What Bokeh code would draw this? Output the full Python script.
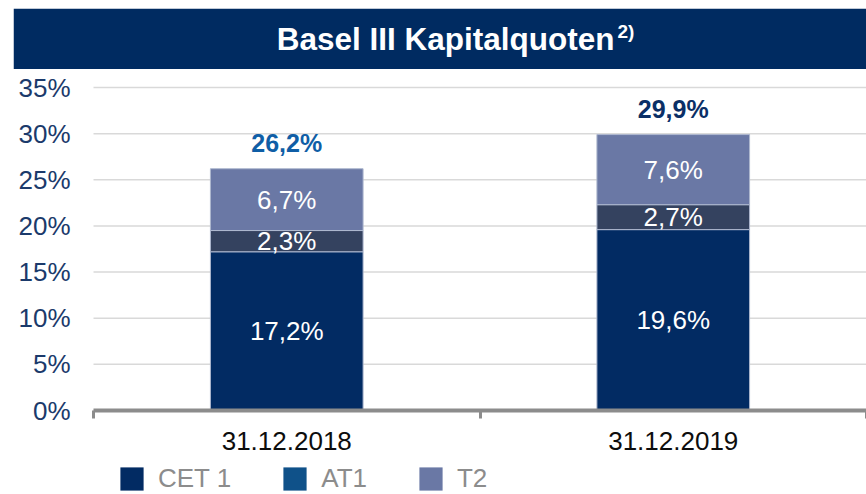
import numpy as np
from bokeh.plotting import figure
from bokeh.models import (ColumnDataSource, Range1d, FixedTicker, Label, Legend, LegendItem,
                          BoxAnnotation)
from bokeh.core.properties import value
from bokeh.embed import file_html
from bokeh.resources import INLINE

# ---------------- data ----------------
title_text = "Basel III Kapitalquoten"
title_sup = "2)"
categories = ["31.12.2018", "31.12.2019"]
series_names = ["CET 1", "AT1", "T2"]
cet1 = [17.2, 19.6]
at1 = [2.3, 2.7]
t2 = [6.7, 7.6]
y_ticks = [0, 5, 10, 15, 20, 25, 30, 35]
y_tick_labels = ["0%", "5%", "10%", "15%", "20%", "25%", "30%", "35%"]

# ---------------- styles / layout ----------------
FONT = "Liberation Sans"
NAVY = "#002B61"
bar_colors = ["#022B63", "#34425F", "#6A78A5"]
legend_colors = ["#022B63", "#0F5189", "#6A78A5"]
total_colors = ["#0F5EA6", "#0B2F66"]

W, H = 866, 494
LEFT_PAD = 13         # white strip left of the banner
TOP_PAD = 8           # white strip above the banner
PLOT_LEFT = 80        # px from frame left to where the axis starts
TOP_GAP = 79          # frame top -> 35% line
PLOT_H = 323          # 35% line -> 0% line
BANNER_H = 60.5


def fmt(v):
    return f"{v:.1f}".replace(".", ",") + "%"


n = len(categories)
xs = [i + 0.5 for i in range(n)]

frame_h = H - TOP_PAD
px_per_cat = (W - LEFT_PAD - PLOT_LEFT) / n
px_per_unit = PLOT_H / y_ticks[-1]
y_top = y_ticks[-1] + TOP_GAP / px_per_unit
y_bottom = -(frame_h - TOP_GAP - PLOT_H) / px_per_unit

p = figure(width=W, height=H,
           x_range=Range1d(-PLOT_LEFT / px_per_cat, n),
           y_range=Range1d(y_bottom, y_top),
           toolbar_location=None, output_backend="svg",
           min_border_left=LEFT_PAD, min_border_right=0, min_border_top=TOP_PAD,
           min_border_bottom=0)
p.outline_line_color = None
p.grid.visible = False
p.yaxis.visible = False

# banner
p.add_layout(BoxAnnotation(bottom=y_top - BANNER_H / px_per_unit,
                           fill_color=NAVY, fill_alpha=1, line_color=None))
p.add_layout(Label(x=601, y=frame_h - 30.6, x_units="screen", y_units="screen", text=title_text,
                   text_align="right", text_baseline="middle", text_font=FONT,
                   text_font_style="bold", text_font_size="31.5px", text_color="white"))
p.add_layout(Label(x=604, y=frame_h - 23, x_units="screen", y_units="screen", text=title_sup,
                   text_align="left", text_baseline="middle", text_font=FONT,
                   text_font_style="bold", text_font_size="19px", text_color="white"))

# gridlines and y tick labels
p.segment(x0=0, x1=n, y0=y_ticks, y1=y_ticks, line_color="#D9D9D9", line_width=1.5,
          level="underlay")
p.text(x=[0] * len(y_ticks), y=y_ticks, text=y_tick_labels, x_offset=-23,
       text_align="right", text_baseline="middle", text_color="#1B3A6B",
       text_font=value(FONT), text_font_size="26px")

# bars
src = ColumnDataSource(dict(x=xs, cet1=cet1, at1=at1, t2=t2))
p.vbar_stack(["cet1", "at1", "t2"], x="x", width=0.395, source=src,
             fill_color=bar_colors, line_color="#AEB8CF", line_width=1)

# segment labels
stack = np.array([cet1, at1, t2])
cum = np.cumsum(stack, axis=0)
mids = cum - stack / 2
lx, ly, lt = [], [], []
for s in range(stack.shape[0]):
    for i in range(n):
        lx.append(xs[i])
        ly.append(float(mids[s, i]))
        lt.append(fmt(stack[s, i]))
p.text(x="x", y="y", text="t", source=ColumnDataSource(dict(x=lx, y=ly, t=lt)),
       text_align="center", text_baseline="middle", text_color="white",
       text_font=value(FONT), text_font_size="26px")

# totals
totals = [float(v) for v in cum[-1]]
p.text(x="x", y="y", text="t", text_color="c",
       source=ColumnDataSource(dict(x=xs, y=totals, t=[fmt(v) for v in totals], c=total_colors)),
       text_align="center", text_baseline="middle", y_offset=-26,
       text_font=value(FONT), text_font_size="25px", text_font_style="bold")

# x axis, drawn at y = 0 inside the frame
p.xaxis.fixed_location = 0
p.xaxis.bounds = (0, n)
p.xaxis.ticker = FixedTicker(ticks=xs, minor_ticks=list(range(n + 1)))
p.xaxis.major_label_overrides = {x: c for x, c in zip(xs, categories)}
p.xaxis.axis_line_color = "#8C8C8C"
p.xaxis.axis_line_width = 4
p.xaxis.major_tick_line_color = None
p.xaxis.major_tick_out = 0
p.xaxis.major_tick_in = 0
p.xaxis.minor_tick_line_color = "#8C8C8C"
p.xaxis.minor_tick_line_width = 3
p.xaxis.minor_tick_out = 8
p.xaxis.minor_tick_in = 0
p.xaxis.major_label_standoff = 13
p.xaxis.major_label_text_font = FONT
p.xaxis.major_label_text_font_size = "26px"
p.xaxis.major_label_text_color = "#0D0D0D"

# legend: zero-size bars carry the legend swatch colours
items = []
for name, col in zip(series_names, legend_colors):
    r = p.vbar(x=xs, bottom=0, top=0, width=0.0001, fill_color=col, line_color=None)
    items.append(LegendItem(label=name, renderers=[r]))
lg = Legend(items=items, location=(104, 0), orientation="horizontal",
            glyph_width=29, glyph_height=29, label_standoff=12, padding=0, margin=0,
            spacing=49, border_line_color=None, background_fill_alpha=0,
            label_text_font=FONT, label_text_font_size="26px",
            label_text_color="#8C8C8C", label_text_baseline="middle")
p.add_layout(lg)

open("out.html", "w").write(file_html(p, INLINE))
